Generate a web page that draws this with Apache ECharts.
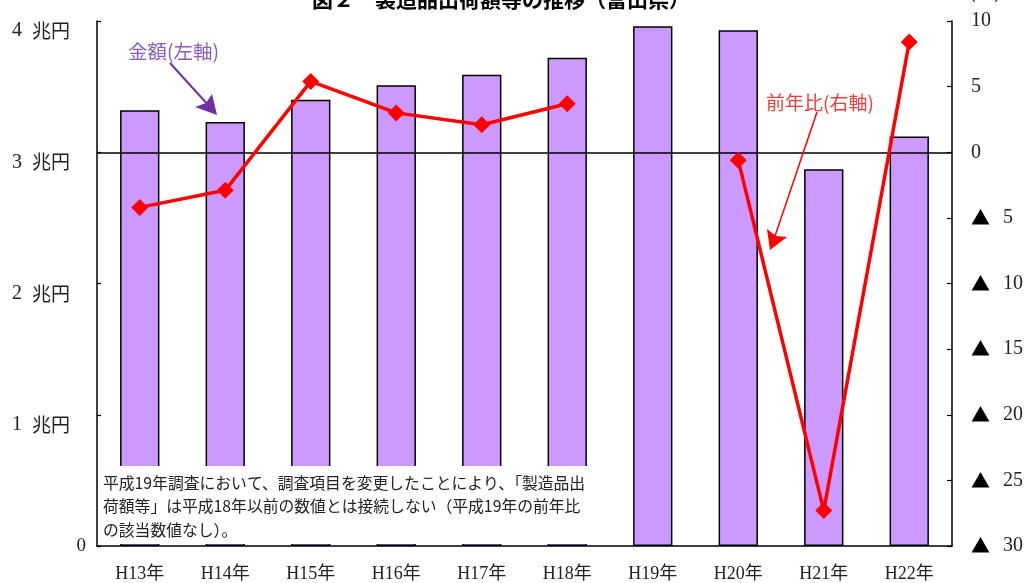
<!DOCTYPE html>
<html>
<head>
<meta charset="utf-8">
<title>製造品出荷額等の推移</title>
<script src="https://cdn.jsdelivr.net/npm/echarts@6/dist/echarts.min.js"></script>
<style>
  html, body { margin: 0; padding: 0; background: #fff; }
  #main { width: 1028px; height: 583px; }
</style>
</head>
<body>
<div id="main"></div>
<script>
// 年次
const years = ['H13年', 'H14年', 'H15年', 'H16年', 'H17年', 'H18年', 'H19年', 'H20年', 'H21年', 'H22年']
// 製造品出荷額等（兆円）
const amount = [3.32, 3.23, 3.40, 3.51, 3.59, 3.72, 3.96, 3.93, 2.87, 3.12]
// 前年比（％） H19は該当数値なし
const yoy = [-4.2, -2.9, 5.4, 3.0, 2.1, 3.7, null, -0.6, -27.3, 8.4]
// 軸の範囲
const leftMin = 0
const leftMax = 4
const leftStep = 1
const rightMin = -30
const rightMax = 10
const rightStep = 5

const serif = '"Liberation Serif", "Noto Sans CJK JP"'
const gothic = '"Noto Sans CJK JP", "Liberation Serif"'

const note = '平成19年調査において、調査項目を変更したことにより、「製造品出\n' +
  '荷額等」は平成18年以前の数値とは接続しない（平成19年の前年比\n' +
  'の該当数値なし）。'

const chart = echarts.init(document.getElementById('main'))

const option = {
  animation: false,
  backgroundColor: '#fff',
  grid: {
    left: 97,
    right: 76,
    top: 21,
    bottom: 36
  },
  xAxis: {
    type: 'category',
    data: years,
    axisLine: { lineStyle: { color: '#000', width: 1.5 } },
    axisTick: { inside: true, length: 7, lineStyle: { color: '#000', width: 1.2 } },
    axisLabel: {
      color: '#222',
      fontSize: 18,
      fontFamily: serif,
      margin: 19
    },
    splitLine: { show: false }
  },
  yAxis: [
    {
      type: 'value',
      min: leftMin,
      max: leftMax,
      interval: leftStep,
      axisLine: { show: true, lineStyle: { color: '#000', width: 1.5 } },
      axisTick: { show: true, inside: true, length: 4, lineStyle: { color: '#000', width: 1.2 } },
      splitLine: { show: false },
      axisLabel: {
        margin: 11,
        formatter: function (v) {
          // 0だけ位置が違う
          return v === 0 ? '{z|0}' : '{a|' + v + '  }{b|兆円}'
        },
        rich: {
          a: { fontSize: 20, fontFamily: serif, color: '#222', padding: [20, 0, 0, 0] },
          b: { fontSize: 19, fontFamily: gothic, color: '#222', padding: [20, 16, 0, 0] },
          z: { fontSize: 19, fontFamily: serif, color: '#222' }
        }
      }
    },
    {
      type: 'value',
      min: rightMin,
      max: rightMax,
      interval: rightStep,
      position: 'right',
      axisLine: { show: true, lineStyle: { color: '#000', width: 1.5 } },
      axisTick: { show: true, inside: true, length: 5, lineStyle: { color: '#000', width: 1.2 } },
      splitLine: { show: false },
      axisLabel: {
        margin: 19,
        formatter: function (v) {
          // マイナスは▲表記
          return v < 0 ? '{t|▲}{n|' + (-v) + '}' : '{n|' + v + '}'
        },
        rich: {
          t: { fontSize: 19, fontFamily: gothic, color: '#000', width: 32 },
          n: { fontSize: 20, fontFamily: serif, color: '#222' }
        }
      }
    }
  ],
  series: [
    {
      name: '金額',
      type: 'bar',
      yAxisIndex: 0,
      barWidth: '46%',
      itemStyle: {
        color: '#cc99ff',
        borderColor: '#000',
        borderWidth: 1.5
      },
      data: amount
    },
    {
      name: '前年比',
      type: 'line',
      yAxisIndex: 1,
      connectNulls: false,
      symbol: 'diamond',
      symbolSize: 17,
      lineStyle: { color: '#ff0000', width: 3.5 },
      itemStyle: { color: '#ff0000' },
      z: 5,
      data: yoy,
      markLine: {
        silent: true,
        symbol: 'none',
        label: { show: false },
        lineStyle: { color: '#000', width: 1.5, type: 'solid' },
        data: [{ yAxis: 0 }]
      }
    }
  ],
  graphic: [
    // タイトル（上が切れている）
    {
      type: 'text',
      z: 100,
      style: {
        x: 501, y: -11,
        text: '図２　製造品出荷額等の推移（富山県）',
        textAlign: 'center',
        textVerticalAlign: 'top',
        fontSize: 21,
        fontWeight: 'bold',
        fontFamily: gothic,
        fill: '#000'
      }
    },
    {
      type: 'text',
      z: 100,
      style: {
        x: 985, y: -16,
        text: '（％）',
        textAlign: 'center',
        textVerticalAlign: 'top',
        fontSize: 18,
        fontFamily: gothic,
        fill: '#222'
      }
    },
    // 注記の白枠
    {
      type: 'rect',
      z: 100,
      shape: { x: 99, y: 466, width: 488, height: 78 },
      style: { fill: '#fff' }
    },
    {
      type: 'text',
      z: 101,
      style: {
        x: 103, y: 471,
        text: note,
        textVerticalAlign: 'top',
        fontSize: 15.8,
        lineHeight: 23.5,
        fontFamily: gothic,
        fill: '#222'
      }
    },
    // 金額(左軸) と矢印
    {
      type: 'text',
      z: 100,
      style: {
        x: 128, y: 52,
        text: '金額(左軸)',
        textVerticalAlign: 'middle',
        fontSize: 19.5,
        fontFamily: gothic,
        fill: '#8a5cc4'
      }
    },
    {
      type: 'line',
      z: 100,
      shape: { x1: 170, y1: 63, x2: 210, y2: 107 },
      style: { stroke: '#7030a0', lineWidth: 2 }
    },
    {
      type: 'polygon',
      z: 100,
      shape: { points: [[217, 115], [195, 107], [206, 103], [212, 94]] },
      style: { fill: '#7030a0' }
    },
    // 前年比(右軸) と矢印
    {
      type: 'text',
      z: 100,
      style: {
        x: 766, y: 103,
        text: '前年比(右軸)',
        textVerticalAlign: 'middle',
        fontSize: 19,
        fontFamily: gothic,
        fill: '#f03c3c'
      }
    },
    {
      type: 'line',
      z: 100,
      shape: { x1: 817, y1: 112, x2: 773, y2: 242 },
      style: { stroke: '#ff0000', lineWidth: 1.5 }
    },
    {
      type: 'polygon',
      z: 100,
      shape: { points: [[770, 250], [767, 229], [776, 236], [787, 237]] },
      style: { fill: '#ff0000' }
    }
  ]
}

chart.setOption(option)
</script>
</body>
</html>
